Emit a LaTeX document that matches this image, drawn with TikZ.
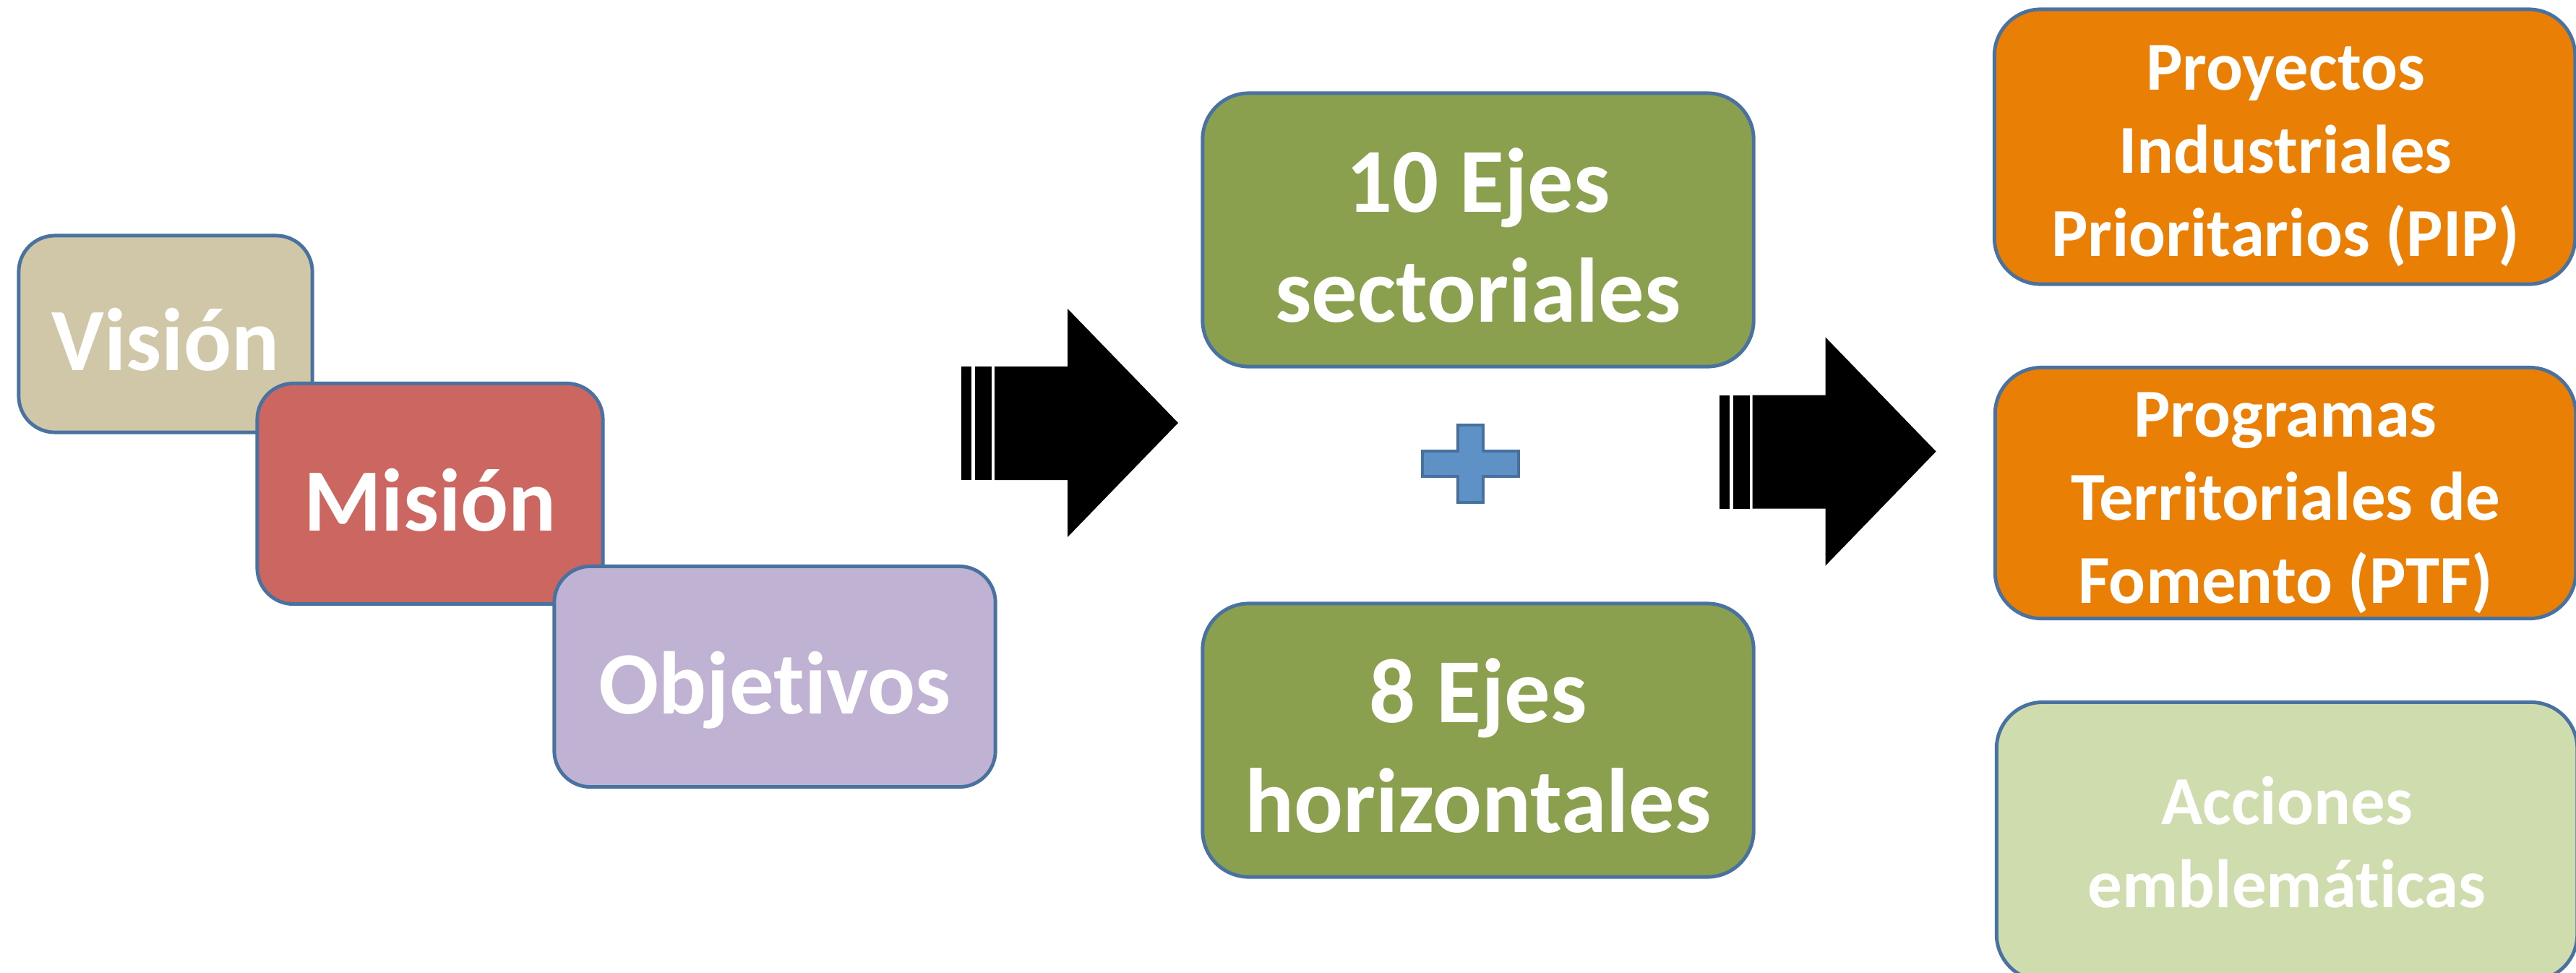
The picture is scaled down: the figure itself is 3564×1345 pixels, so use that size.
\documentclass[tikz,border=0pt]{standalone}
\usepackage{fontspec}
\setmainfont{Carlito}[Ligatures=NoCommon, Contextuals=NoAlternate]

\definecolor{vision}{HTML}{D0C7A8}
\definecolor{mision}{HTML}{CC6660}
\definecolor{objetivos}{HTML}{C0B2D2}
\definecolor{ejes}{HTML}{8AA04E}
\definecolor{naranja}{HTML}{E97F05}
\definecolor{verdeclaro}{HTML}{CFDCAD}
\definecolor{borde}{HTML}{4A72A0}
\definecolor{masfill}{HTML}{5E91C6}
\definecolor{masborde}{HTML}{46709D}

\tikzset{
  caja/.style={draw=borde, line width=1.4pt, inner sep=0pt},
  marco/.style={caja, rounded corners=0.5cm},
  eje/.style={caja, fill=ejes, minimum width=7.62cm, minimum height=3.78cm, rounded corners=0.64cm},
  accion/.style={caja, minimum width=8.03cm, rounded corners=0.64cm},
  texto/.style={text=white, align=center, anchor=base, inner sep=0pt},
  txtmarco/.style={texto, font=\fontsize{35}{42}\selectfont\bfseries},
  txteje/.style={texto, font=\fontsize{36}{43}\selectfont\bfseries},
  txtaccion/.style={texto, font=\fontsize{27}{32.6}\selectfont\bfseries}
}

\begin{document}
\begin{tikzpicture}[x=0.01cm,y=-0.01cm]
\useasboundingbox (0,0) rectangle (3564,1345);
\clip (0,0) rectangle (3564,1345);

% vision, mision, objetivos
\node[marco, fill=vision, minimum width=4.06cm, minimum height=2.72cm] (vision) at (229,462) {};
\node[txtmarco] (visionTxt) at (229,512) {Visión};
\node[marco, fill=mision, minimum width=4.78cm, minimum height=3.05cm] (mision) at (595,683) {};
\node[txtmarco] (misionTxt) at (595,734) {Misión};
\node[marco, fill=objetivos, minimum width=6.10cm, minimum height=3.05cm] (objetivos) at (1072,936) {};
\node[txtmarco] (objetivosTxt) at (1072,987) {Objetivos};

% flecha 1
\fill[black] (1376,507) -- (1477,507) -- (1477,427) -- (1630,585) -- (1477,743) -- (1477,664) -- (1376,664) -- cycle;
\fill[black] (1330,507) rectangle (1344,664);
\fill[black] (1349,507) rectangle (1372,664);

% ejes
\node[eje] (sectoriales) at (2045,318) {};
\node[txteje] (sectorialesTxt) at (2045,445) {10 Ejes\\sectoriales};
\node[eje] (horizontales) at (2045,1024) {};
\node[txteje] (horizontalesTxt) at (2045,1151) {8 Ejes\\horizontales};
\draw[fill=masfill, draw=masborde, line width=1.4pt] (2017,588) -- (2052,588) -- (2052,624) -- (2101,624) -- (2101,659) -- (2052,659) -- (2052,695) -- (2017,695) -- (2017,659) -- (1968,659) -- (1968,624) -- (2017,624) -- cycle;

% flecha 2
\begin{scope}[xshift=10.48cm, yshift=-0.395cm]
\fill[black] (1376,507) -- (1477,507) -- (1477,427) -- (1630,585) -- (1477,743) -- (1477,664) -- (1376,664) -- cycle;
\fill[black] (1330,507) rectangle (1344,664);
\fill[black] (1349,507) rectangle (1372,664);
\end{scope}

% instrumentos
\node[accion, fill=naranja, minimum height=3.80cm] (pip) at (3161,203) {};
\node[txtaccion] (pipTxt) at (3162,354) {Proyectos\\Industriales\\Prioritarios (PIP)};
\node[accion, fill=naranja, minimum height=3.47cm] (ptf) at (3162,682) {};
\node[txtaccion] (ptfTxt) at (3162,834) {Programas\\Territoriales de\\Fomento (PTF)};
\node[accion, fill=verdeclaro, minimum height=3.85cm] (acciones) at (3164,1164) {};
\node[txtaccion] (accionesTxt) at (3164,1255) {Acciones\\emblemáticas};
\end{tikzpicture}
\end{document}
